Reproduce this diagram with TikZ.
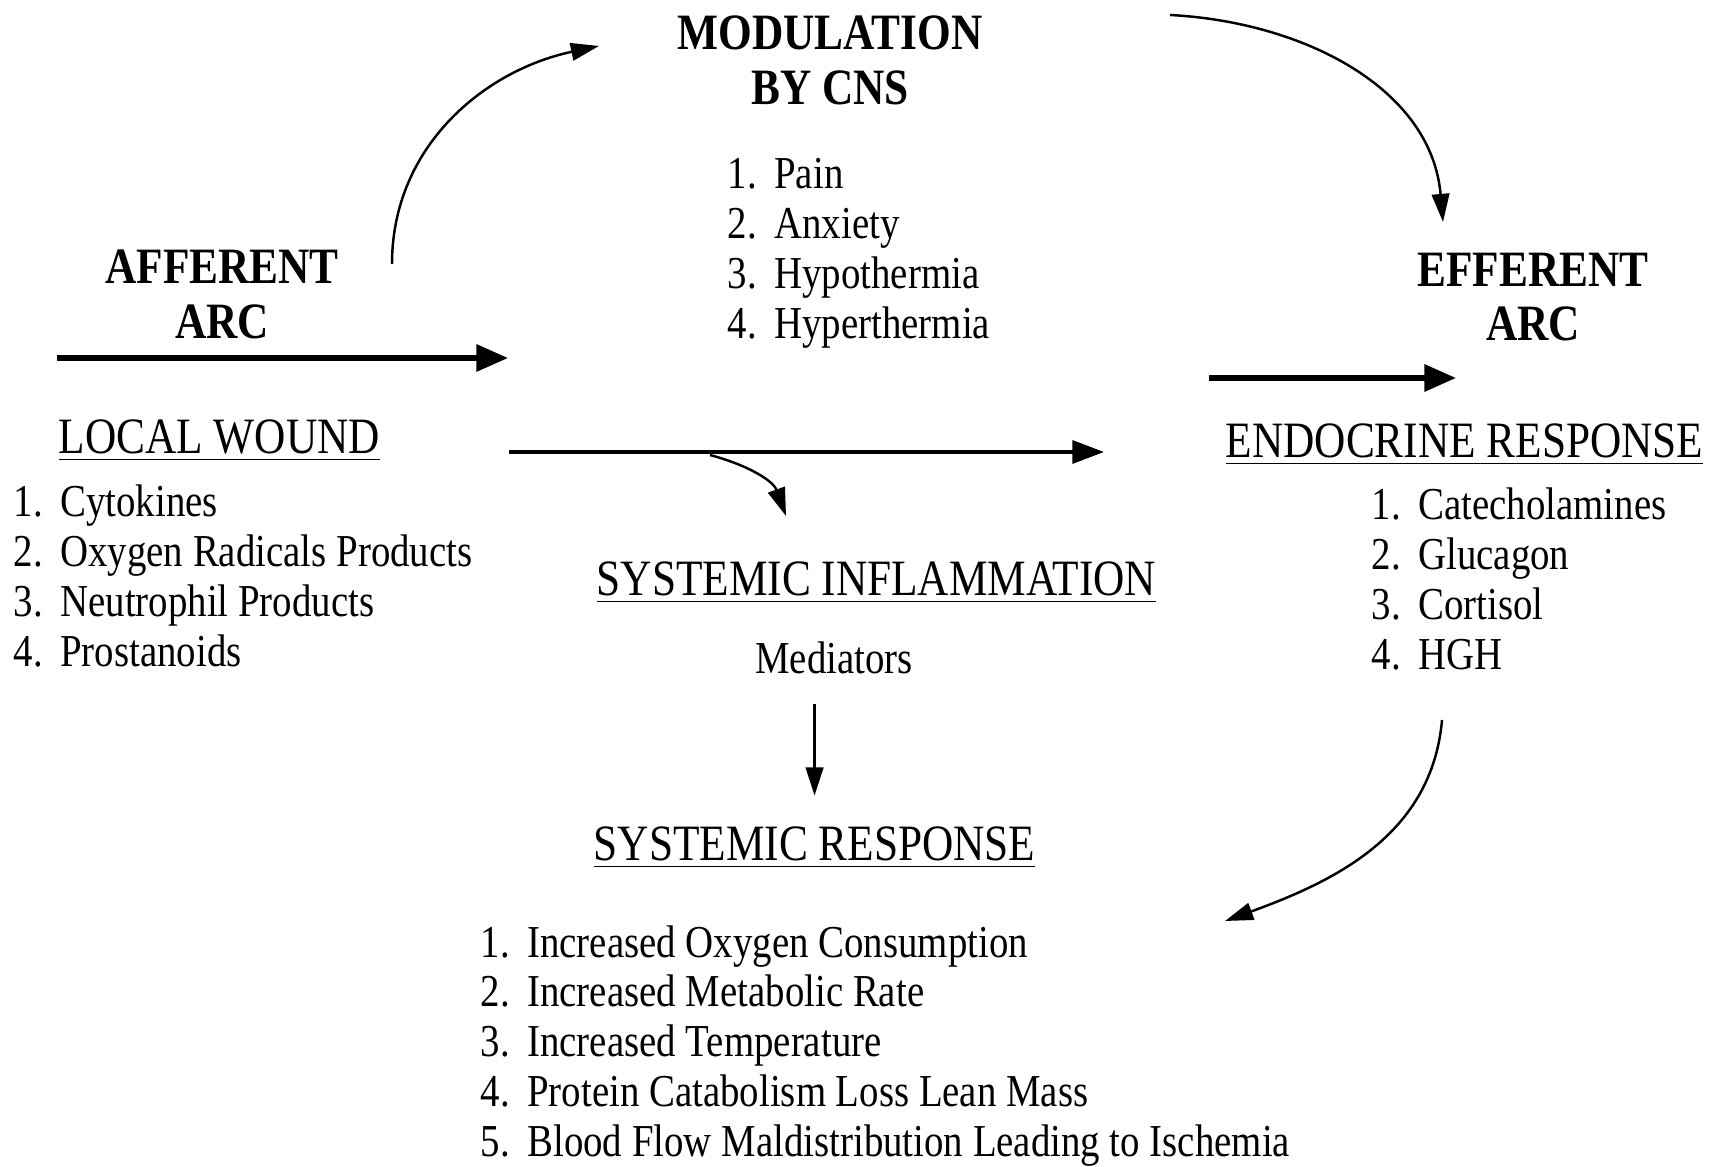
\documentclass[tikz,border=0pt]{standalone}
\usepackage{fontspec}
\setmainfont[FakeStretch=0.85]{Liberation Serif}
\usetikzlibrary{arrows.meta}

\newcommand{\listfont}{\fontsize{13}{14.2}\selectfont}
\newcommand{\headfont}{\fontsize{14.5}{15.6}\selectfont}

\begin{document}
\begin{tikzpicture}[
  every node/.style={inner sep=0pt},
  bighead/.style={font=\headfont\bfseries, align=center},
  subhead/.style={font=\headfont, anchor=base west},
  items/.style={font=\listfont, anchor=base west},
  fat/.style={line width=1.5pt, -{Triangle[length=9pt,width=7.5pt]}},
  mid/.style={line width=1.1pt, -{Triangle[length=9pt,width=6.5pt]}},
  slim/.style={line width=0.7pt, -{Triangle[length=8pt,width=5pt]}}
]
\useasboundingbox (0,0) rectangle (17.23,-11.67);

% headings
\node[bighead] (modul) at (8.30,-0.605) {MODULATION\\BY CNS};
\node[bighead] (aff) at (2.22,-2.945) {AFFERENT\\ARC};
\node[bighead] (eff) at (15.33,-2.97) {EFFERENT\\ARC};
\node[subhead] (wound) at (0.58,-4.54) {\underline{LOCAL WOUND}};
\node[subhead] (endo) at (12.25,-4.58) {\underline{ENDOCRINE RESPONSE}};
\node[subhead] (infl) at (5.96,-5.96) {\underline{SYSTEMIC INFLAMMATION}};
\node[font=\listfont, anchor=base] (medi) at (8.34,-6.74) {Mediators};
\node[subhead] (resp) at (5.93,-8.61) {\underline{SYSTEMIC RESPONSE}};

% lists
\node[items] (cnslist) at (7.27,-1.89) {\begin{tabular}[t]{@{}l@{\hspace{5pt}}l@{}}
1.&Pain\\2.&Anxiety\\3.&Hypothermia\\4.&Hyperthermia\end{tabular}};
\node[items] (woundlist) at (0.13,-5.17) {\begin{tabular}[t]{@{}l@{\hspace{5pt}}l@{}}
1.&Cytokines\\2.&Oxygen Radicals Products\\3.&Neutrophil Products\\4.&Prostanoids\end{tabular}};
\node[items] (endolist) at (13.71,-5.20) {\begin{tabular}[t]{@{}l@{\hspace{5pt}}l@{}}
1.&Catecholamines\\2.&Glucagon\\3.&Cortisol\\4.&HGH\end{tabular}};
\node[items] (resplist) at (4.80,-9.57) {\begin{tabular}[t]{@{}l@{\hspace{5pt}}l@{}}
1.&Increased Oxygen Consumption\\2.&Increased Metabolic Rate\\3.&Increased Temperature\\
4.&Protein Catabolism Loss Lean Mass\\5.&Blood Flow Maldistribution Leading to Ischemia\end{tabular}};

% arrow ends
\coordinate (a1) at (0.57,-3.58);
\coordinate (a2) at (5.08,-3.58);
\coordinate (e1) at (12.09,-3.78);
\coordinate (e2) at (14.56,-3.78);
\coordinate (w1) at (5.09,-4.52);
\coordinate (w2) at (11.04,-4.52);
\coordinate (b1) at (7.10,-4.55);
\coordinate (b2) at (7.86,-5.16);
\coordinate (c1) at (3.92,-2.64);
\coordinate (c2) at (5.99,-0.46);
\coordinate (d1) at (11.70,-0.15);
\coordinate (d2) at (14.43,-2.22);
\coordinate (f1) at (14.42,-7.20);
\coordinate (f2) at (12.25,-9.21);

\path[draw,fat] (a1) -- (a2);
\path[draw,fat] (e1) -- (e2);
\path[draw,mid] (w1) -- (w2);
\path[draw,slim] (b1) to[out=-15,in=110] (b2);
\path[draw,slim] (c1) to[out=90,in=192] (c2);
\path[draw,slim] (d1) to[out=-3,in=95] (d2);
\path[draw,slim] (f1) to[out=-95,in=20] (f2);
\path[draw,slim,shorten <=0.29cm,shorten >=0.31cm] (medi.south -| resp.north) -- (resp.north);
\end{tikzpicture}
\end{document}
